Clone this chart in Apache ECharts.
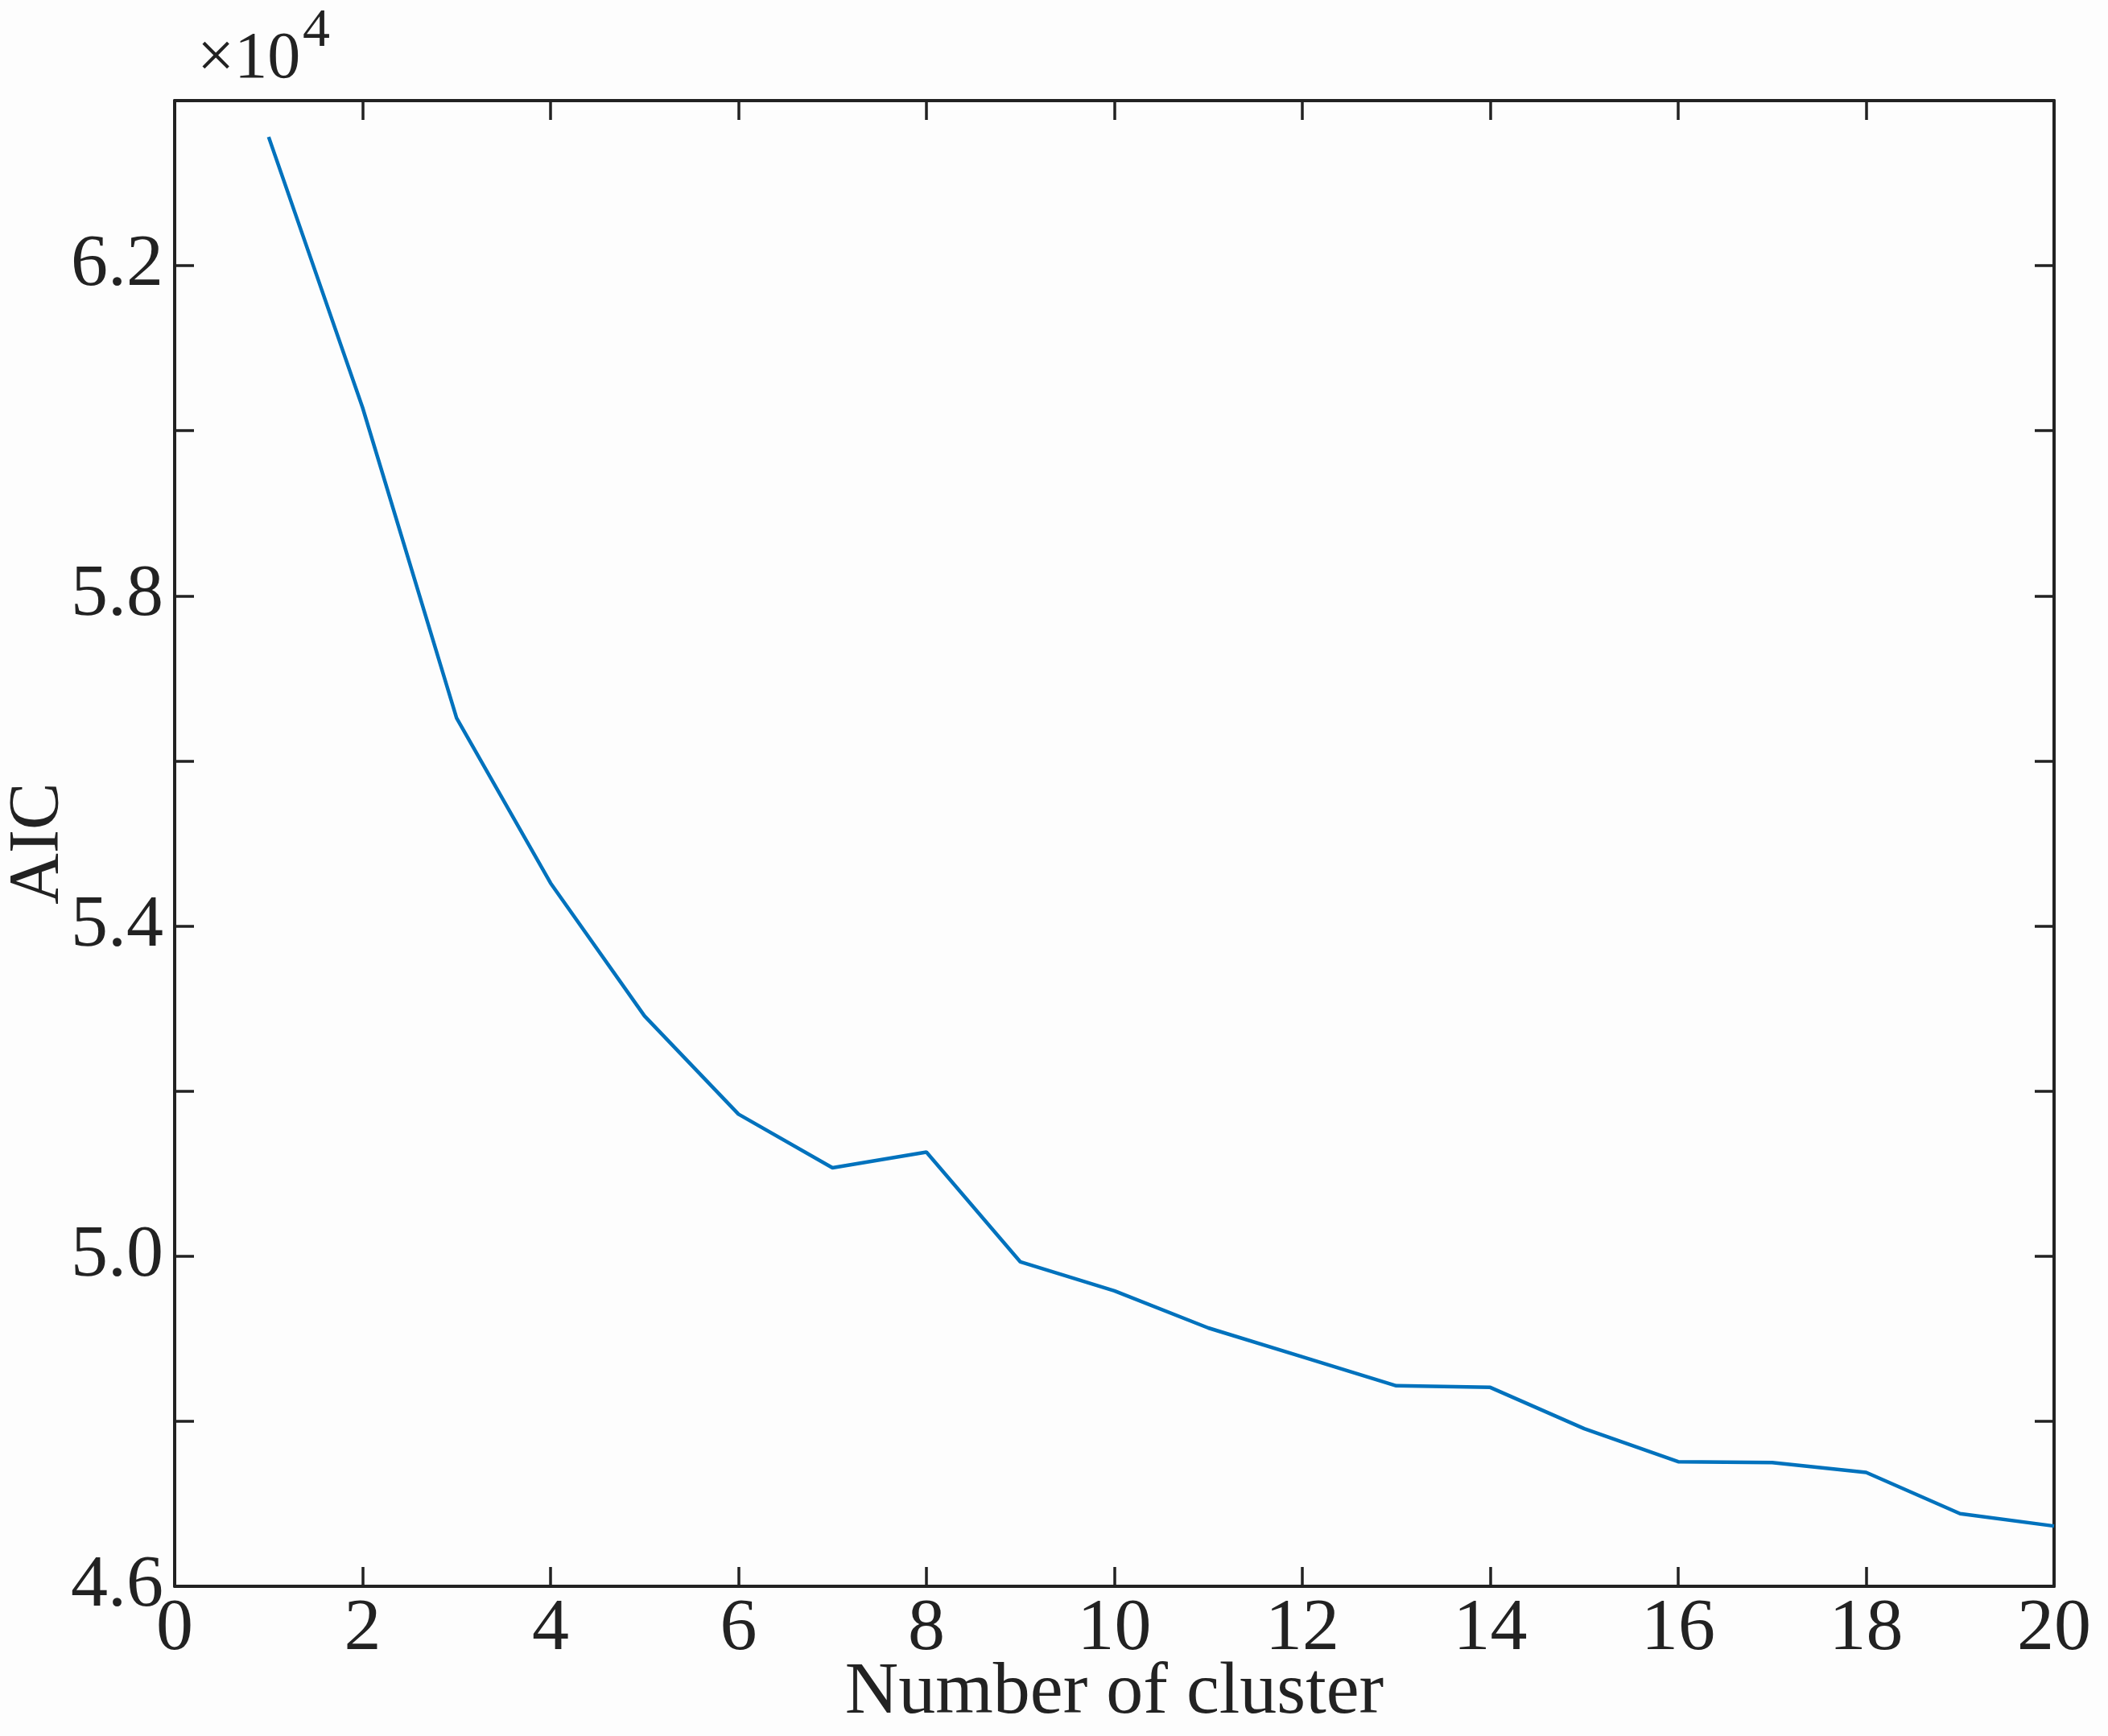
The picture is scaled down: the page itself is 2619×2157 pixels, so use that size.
<!DOCTYPE html>
<html>
<head>
<meta charset="utf-8">
<title>AIC</title>
<script src="https://cdn.jsdelivr.net/npm/echarts@6/dist/echarts.min.js"></script>
<style>
    html, body { margin: 0; padding: 0; background: #fdfdfd; }
    #main { width: 2619px; height: 2157px; }
</style>
</head>
<body>
<div id="main"></div>
<script>
    // cluster counts and AIC values (x 10^4)
    var clusters = [1, 2, 3, 4, 5, 6, 7, 8, 9, 10, 11, 12, 13, 14, 15, 16, 17, 18, 19, 20];
    var aic = [6.356, 6.028, 5.652, 5.452, 5.291, 5.172, 5.107, 5.126, 4.993, 4.958,
               4.913, 4.878, 4.843, 4.841, 4.791, 4.751, 4.750, 4.738, 4.688, 4.673];
    var yLabels = ['4.6', '5.0', '5.4', '5.8', '6.2'];

    var font = 'Liberation Serif';
    var ink = '#222';

    var points = [];
    for (var i = 0; i < clusters.length; i++) {
        points.push([clusters[i], aic[i]]);
    }

    // box frame: keep every axis on its own edge (no onZero)
    var axisLine = { show: true, onZero: false, lineStyle: { color: ink, width: 4 } };
    var tick = { show: true, inside: true, length: 24, lineStyle: { color: ink, width: 3.5 } };

    var yFormat = function (v) {
        var s = v.toFixed(1);
        return yLabels.indexOf(s) > -1 ? s : '';
    };

    var myChart = echarts.init(document.getElementById('main'));

    var option = {
        backgroundColor: '#fdfdfd',
        animation: false,
        grid: { left: 217, right: 67, top: 125, bottom: 186, containLabel: false, outerBoundsMode: 'none' },
        graphic: [
            { type: 'text', left: 245, top: 33,
              style: { text: '\u00d710', font: '82px "' + font + '"', fill: ink } },
            { type: 'text', left: 376, top: 5,
              style: { text: '4', font: '68px "' + font + '"', fill: ink } }
        ],
        xAxis: [
            {
                type: 'value', min: 0, max: 20, interval: 2,
                name: 'Number of cluster', nameLocation: 'middle', nameGap: 87, nameMoveOverlap: false,
                nameTextStyle: { fontFamily: font, fontSize: 92, color: ink },
                axisLine: axisLine, axisTick: tick, splitLine: { show: false },
                axisLabel: { fontFamily: font, fontSize: 92, color: ink, margin: 8 }
            },
            {
                type: 'value', position: 'top', min: 0, max: 20, interval: 2,
                axisLine: axisLine, axisTick: tick, splitLine: { show: false },
                axisLabel: { show: false }
            }
        ],
        yAxis: [
            {
                type: 'value', min: 4.6, max: 6.4, interval: 0.2,
                name: 'AIC', nameLocation: 'middle', nameGap: 125, nameMoveOverlap: false,
                nameTextStyle: { fontFamily: font, fontSize: 88, color: ink },
                axisLine: axisLine, axisTick: tick, splitLine: { show: false },
                axisLabel: { fontFamily: font, fontSize: 92, color: ink, margin: 14, formatter: yFormat }
            },
            {
                type: 'value', position: 'right', min: 4.6, max: 6.4, interval: 0.2,
                axisLine: axisLine, axisTick: tick, splitLine: { show: false },
                axisLabel: { show: false }
            }
        ],
        series: [
            {
                name: 'AIC',
                type: 'line',
                data: points,
                showSymbol: false,
                lineStyle: { color: '#0072BD', width: 4.5 },
                itemStyle: { color: '#0072BD' }
            }
        ]
    };
    myChart.setOption(option);
</script>
</body>
</html>
